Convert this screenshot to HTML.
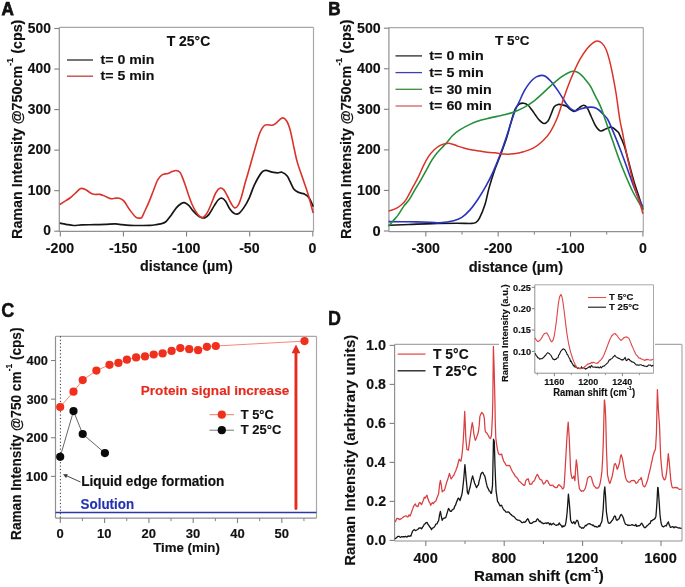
<!DOCTYPE html><html><head><meta charset="utf-8"><style>html,body{margin:0;padding:0;background:#fff;width:685px;height:587px;overflow:hidden}svg{display:block;filter:blur(0.4px)}text{font-family:"Liberation Sans",sans-serif;font-weight:bold}</style></head><body>
<svg width="685" height="587" viewBox="0 0 685 587">
<rect width="685" height="587" fill="#fff"/>
<line x1="59.30" y1="27.40" x2="313.50" y2="27.40" stroke="#a8a8a8" stroke-width="1.20" />
<line x1="313.50" y1="27.40" x2="313.50" y2="231.40" stroke="#a8a8a8" stroke-width="1.20" />
<line x1="59.30" y1="27.40" x2="59.30" y2="231.40" stroke="#909090" stroke-width="1.20" />
<line x1="59.30" y1="231.40" x2="313.50" y2="231.40" stroke="#909090" stroke-width="1.20" />
<line x1="54.30" y1="231.20" x2="59.30" y2="231.20" stroke="#808080" stroke-width="1.10" />
<text x="43.19" y="235.30" font-size="14.07" textLength="7.67" lengthAdjust="spacingAndGlyphs" fill="#111" stroke="#111" stroke-width="0.15" >0</text>
<line x1="54.30" y1="190.66" x2="59.30" y2="190.66" stroke="#808080" stroke-width="1.10" />
<text x="27.84" y="194.76" font-size="14.07" textLength="23.02" lengthAdjust="spacingAndGlyphs" fill="#111" stroke="#111" stroke-width="0.15" >100</text>
<line x1="54.30" y1="150.12" x2="59.30" y2="150.12" stroke="#808080" stroke-width="1.10" />
<text x="27.84" y="154.22" font-size="14.07" textLength="23.02" lengthAdjust="spacingAndGlyphs" fill="#111" stroke="#111" stroke-width="0.15" >200</text>
<line x1="54.30" y1="109.58" x2="59.30" y2="109.58" stroke="#808080" stroke-width="1.10" />
<text x="27.84" y="113.68" font-size="14.07" textLength="23.02" lengthAdjust="spacingAndGlyphs" fill="#111" stroke="#111" stroke-width="0.15" >300</text>
<line x1="54.30" y1="69.04" x2="59.30" y2="69.04" stroke="#808080" stroke-width="1.10" />
<text x="27.84" y="73.14" font-size="14.07" textLength="23.02" lengthAdjust="spacingAndGlyphs" fill="#111" stroke="#111" stroke-width="0.15" >400</text>
<line x1="54.30" y1="28.50" x2="59.30" y2="28.50" stroke="#808080" stroke-width="1.10" />
<text x="27.84" y="32.60" font-size="14.07" textLength="23.02" lengthAdjust="spacingAndGlyphs" fill="#111" stroke="#111" stroke-width="0.15" >500</text>
<line x1="60.30" y1="231.40" x2="60.30" y2="236.40" stroke="#808080" stroke-width="1.10" />
<text x="45.80" y="252.70" font-size="14.28" textLength="28.42" lengthAdjust="spacingAndGlyphs" fill="#111" stroke="#111" stroke-width="0.15" >-200</text>
<line x1="123.43" y1="231.40" x2="123.43" y2="236.40" stroke="#808080" stroke-width="1.10" />
<text x="108.93" y="252.70" font-size="14.28" textLength="28.42" lengthAdjust="spacingAndGlyphs" fill="#111" stroke="#111" stroke-width="0.15" >-150</text>
<line x1="186.55" y1="231.40" x2="186.55" y2="236.40" stroke="#808080" stroke-width="1.10" />
<text x="172.05" y="252.70" font-size="14.28" textLength="28.42" lengthAdjust="spacingAndGlyphs" fill="#111" stroke="#111" stroke-width="0.15" >-100</text>
<line x1="249.68" y1="231.40" x2="249.68" y2="236.40" stroke="#808080" stroke-width="1.10" />
<text x="239.13" y="252.70" font-size="14.28" textLength="20.52" lengthAdjust="spacingAndGlyphs" fill="#111" stroke="#111" stroke-width="0.15" >-50</text>
<line x1="312.80" y1="231.40" x2="312.80" y2="236.40" stroke="#808080" stroke-width="1.10" />
<text x="308.56" y="252.70" font-size="14.28" textLength="7.90" lengthAdjust="spacingAndGlyphs" fill="#111" stroke="#111" stroke-width="0.15" >0</text>
<text x="140.11" y="271.00" font-size="14.18" textLength="92.60" lengthAdjust="spacingAndGlyphs" fill="#111" stroke="#111" stroke-width="0.15" >distance (µm)</text>
<g transform="translate(21.80,238.00) rotate(-90) scale(0.9349,1)"><text fill="#111" stroke="#111" stroke-width="0.15"><tspan x="-1.03" y="0.00" font-size="15.33">Raman Intensity @750cm</tspan><tspan x="184.33" y="-9.00" font-size="9.45">-1</tspan><tspan x="192.73" y="0.00" font-size="15.33"> (cps)</tspan></text></g>
<text x="1.57" y="15.10" font-size="18.60" textLength="12.38" lengthAdjust="spacingAndGlyphs" fill="#111" stroke="#111" stroke-width="0.75" >A</text>
<text x="166.74" y="45.60" font-size="13.86" textLength="43.54" lengthAdjust="spacingAndGlyphs" fill="#111" stroke="#111" stroke-width="0.15" >T 25°C</text>
<line x1="67.00" y1="60.00" x2="93.00" y2="60.00" stroke="#2a2a2a" stroke-width="1.30" />
<line x1="67.00" y1="76.20" x2="93.00" y2="76.20" stroke="#c83a3a" stroke-width="1.30" />
<text x="100.53" y="63.70" font-size="13.44" textLength="53.85" lengthAdjust="spacingAndGlyphs" fill="#111" stroke="#111" stroke-width="0.15" >t= 0 min</text>
<text x="100.53" y="80.00" font-size="13.44" textLength="53.85" lengthAdjust="spacingAndGlyphs" fill="#111" stroke="#111" stroke-width="0.15" >t= 5 min</text>
<path d="M59.80,223.10C60.83,223.30 63.70,223.90 66.00,224.30C68.30,224.70 70.95,225.40 73.60,225.50C76.25,225.60 78.33,225.03 81.90,224.90C85.47,224.77 91.15,224.78 95.00,224.70C98.85,224.62 101.58,224.53 105.00,224.40C108.42,224.27 112.67,223.85 115.50,223.90C118.33,223.95 119.58,224.47 122.00,224.70C124.42,224.93 127.00,225.17 130.00,225.30C133.00,225.43 136.67,225.48 140.00,225.50C143.33,225.52 147.23,225.55 150.00,225.40C152.77,225.25 154.85,224.85 156.60,224.60C158.35,224.35 159.02,224.33 160.50,223.90C161.98,223.47 163.75,223.42 165.50,222.00C167.25,220.58 169.17,217.80 171.00,215.40C172.83,213.00 174.83,209.55 176.50,207.60C178.17,205.65 179.70,204.53 181.00,203.70C182.30,202.87 183.02,202.32 184.30,202.60C185.58,202.88 187.23,204.02 188.70,205.40C190.17,206.78 191.62,209.23 193.10,210.90C194.58,212.57 196.37,214.35 197.60,215.40C198.83,216.45 199.33,216.78 200.50,217.20C201.67,217.62 203.18,218.37 204.60,217.90C206.02,217.43 207.38,216.45 209.00,214.40C210.62,212.35 212.70,208.08 214.30,205.60C215.90,203.12 217.30,200.73 218.60,199.50C219.90,198.27 220.93,197.90 222.10,198.20C223.27,198.50 224.28,199.47 225.60,201.30C226.92,203.13 228.53,207.17 230.00,209.20C231.47,211.23 232.93,212.78 234.40,213.50C235.87,214.22 237.20,214.52 238.80,213.50C240.40,212.48 242.25,210.02 244.00,207.40C245.75,204.78 247.58,201.52 249.30,197.80C251.02,194.08 252.27,189.30 254.30,185.10C256.33,180.90 259.57,175.05 261.50,172.60C263.43,170.15 264.12,170.47 265.90,170.40C267.68,170.33 270.25,171.78 272.20,172.20C274.15,172.62 275.97,172.90 277.60,172.90C279.23,172.90 280.37,171.65 282.00,172.20C283.63,172.75 285.47,173.45 287.40,176.20C289.33,178.95 291.67,185.97 293.60,188.70C295.53,191.43 297.20,191.72 299.00,192.60C300.80,193.48 302.77,193.17 304.40,194.00C306.03,194.83 307.32,195.50 308.80,197.60C310.28,199.70 312.55,205.10 313.30,206.60" fill="none" stroke="#161616" stroke-width="1.7" stroke-linejoin="round"/>
<path d="M59.80,204.50C60.50,204.05 62.30,202.88 64.00,201.80C65.70,200.72 68.17,199.38 70.00,198.00C71.83,196.62 73.22,195.07 75.00,193.50C76.78,191.93 78.95,189.25 80.70,188.60C82.45,187.95 83.50,188.68 85.50,189.60C87.50,190.52 90.30,193.30 92.70,194.10C95.10,194.90 97.85,194.05 99.90,194.40C101.95,194.75 103.20,195.50 105.00,196.20C106.80,196.90 109.03,198.25 110.70,198.60C112.37,198.95 113.62,198.37 115.00,198.30C116.38,198.23 117.53,197.77 119.00,198.20C120.47,198.63 122.00,198.95 123.80,200.90C125.60,202.85 127.80,207.20 129.80,209.90C131.80,212.60 134.10,215.73 135.80,217.10C137.50,218.47 138.97,218.08 140.00,218.10C141.03,218.12 141.27,218.22 142.00,217.20C142.73,216.18 143.25,214.52 144.40,212.00C145.55,209.48 147.42,205.60 148.90,202.10C150.38,198.60 151.83,194.70 153.30,191.00C154.77,187.30 156.23,182.58 157.70,179.90C159.17,177.22 160.43,175.97 162.10,174.90C163.77,173.83 166.03,174.05 167.70,173.50C169.37,172.95 170.72,172.10 172.10,171.60C173.48,171.10 174.70,170.40 176.00,170.50C177.30,170.60 178.88,171.18 179.90,172.20C180.92,173.22 181.18,174.38 182.10,176.60C183.02,178.82 184.30,182.37 185.40,185.50C186.50,188.63 187.60,192.27 188.70,195.40C189.80,198.53 190.88,201.72 192.00,204.30C193.12,206.88 194.17,208.92 195.40,210.90C196.63,212.88 198.15,215.10 199.40,216.20C200.65,217.30 201.58,218.08 202.90,217.50C204.22,216.92 205.85,215.12 207.30,212.70C208.75,210.28 210.15,206.37 211.60,203.00C213.05,199.63 214.53,194.98 216.00,192.50C217.47,190.02 219.08,188.53 220.40,188.10C221.72,187.67 222.73,188.58 223.90,189.90C225.07,191.22 226.23,193.82 227.40,196.00C228.57,198.18 229.73,201.03 230.90,203.00C232.07,204.97 233.23,207.37 234.40,207.80C235.57,208.23 236.73,207.42 237.90,205.60C239.07,203.78 240.23,200.53 241.40,196.90C242.57,193.27 243.88,187.45 244.90,183.80C245.92,180.15 246.50,178.47 247.50,175.00C248.50,171.53 249.77,166.98 250.90,163.00C252.03,159.02 252.83,156.07 254.30,151.10C255.77,146.13 257.92,137.52 259.70,133.20C261.48,128.88 262.92,126.53 265.00,125.20C267.08,123.87 270.40,125.50 272.20,125.20C274.00,124.90 274.17,124.60 275.80,123.40C277.43,122.20 280.22,118.45 282.00,118.00C283.78,117.55 285.15,118.75 286.50,120.70C287.85,122.65 288.92,125.52 290.10,129.70C291.28,133.88 292.42,140.43 293.60,145.80C294.78,151.17 295.70,156.53 297.20,161.90C298.70,167.27 300.80,172.65 302.60,178.00C304.40,183.35 306.37,188.65 308.00,194.00C309.63,199.35 311.52,206.93 312.40,210.10C313.28,213.27 313.15,212.52 313.30,213.00" fill="none" stroke="#da3229" stroke-width="1.6" stroke-linejoin="round"/>
<line x1="388.90" y1="27.60" x2="643.30" y2="27.60" stroke="#a8a8a8" stroke-width="1.20" />
<line x1="643.30" y1="27.60" x2="643.30" y2="231.60" stroke="#a8a8a8" stroke-width="1.20" />
<line x1="388.90" y1="27.60" x2="388.90" y2="231.60" stroke="#909090" stroke-width="1.20" />
<line x1="388.90" y1="231.60" x2="643.30" y2="231.60" stroke="#909090" stroke-width="1.20" />
<line x1="383.90" y1="231.00" x2="388.90" y2="231.00" stroke="#808080" stroke-width="1.10" />
<text x="372.56" y="235.60" font-size="14.07" textLength="8.14" lengthAdjust="spacingAndGlyphs" fill="#111" stroke="#111" stroke-width="0.15" >0</text>
<line x1="383.90" y1="190.44" x2="388.90" y2="190.44" stroke="#808080" stroke-width="1.10" />
<text x="357.00" y="195.04" font-size="14.07" textLength="23.68" lengthAdjust="spacingAndGlyphs" fill="#111" stroke="#111" stroke-width="0.15" >100</text>
<line x1="383.90" y1="149.88" x2="388.90" y2="149.88" stroke="#808080" stroke-width="1.10" />
<text x="357.01" y="154.48" font-size="14.07" textLength="23.67" lengthAdjust="spacingAndGlyphs" fill="#111" stroke="#111" stroke-width="0.15" >200</text>
<line x1="383.90" y1="109.32" x2="388.90" y2="109.32" stroke="#808080" stroke-width="1.10" />
<text x="357.01" y="113.92" font-size="14.07" textLength="23.67" lengthAdjust="spacingAndGlyphs" fill="#111" stroke="#111" stroke-width="0.15" >300</text>
<line x1="383.90" y1="68.76" x2="388.90" y2="68.76" stroke="#808080" stroke-width="1.10" />
<text x="357.01" y="73.36" font-size="14.07" textLength="23.67" lengthAdjust="spacingAndGlyphs" fill="#111" stroke="#111" stroke-width="0.15" >400</text>
<line x1="383.90" y1="28.20" x2="388.90" y2="28.20" stroke="#808080" stroke-width="1.10" />
<text x="357.01" y="32.80" font-size="14.07" textLength="23.67" lengthAdjust="spacingAndGlyphs" fill="#111" stroke="#111" stroke-width="0.15" >500</text>
<line x1="425.82" y1="231.60" x2="425.82" y2="236.60" stroke="#808080" stroke-width="1.10" />
<text x="411.62" y="252.60" font-size="14.28" textLength="28.42" lengthAdjust="spacingAndGlyphs" fill="#111" stroke="#111" stroke-width="0.15" >-300</text>
<line x1="498.18" y1="231.60" x2="498.18" y2="236.60" stroke="#808080" stroke-width="1.10" />
<text x="483.98" y="252.60" font-size="14.28" textLength="28.42" lengthAdjust="spacingAndGlyphs" fill="#111" stroke="#111" stroke-width="0.15" >-200</text>
<line x1="570.54" y1="231.60" x2="570.54" y2="236.60" stroke="#808080" stroke-width="1.10" />
<text x="556.34" y="252.60" font-size="14.28" textLength="28.42" lengthAdjust="spacingAndGlyphs" fill="#111" stroke="#111" stroke-width="0.15" >-100</text>
<line x1="642.90" y1="231.60" x2="642.90" y2="236.60" stroke="#808080" stroke-width="1.10" />
<text x="638.96" y="252.60" font-size="14.28" textLength="7.90" lengthAdjust="spacingAndGlyphs" fill="#111" stroke="#111" stroke-width="0.15" >0</text>
<line x1="462.00" y1="231.60" x2="462.00" y2="234.60" stroke="#808080" stroke-width="1.00" />
<line x1="534.36" y1="231.60" x2="534.36" y2="234.60" stroke="#808080" stroke-width="1.00" />
<line x1="606.72" y1="231.60" x2="606.72" y2="234.60" stroke="#808080" stroke-width="1.00" />
<text x="468.70" y="272.10" font-size="14.18" textLength="94.32" lengthAdjust="spacingAndGlyphs" fill="#111" stroke="#111" stroke-width="0.15" >distance (µm)</text>
<g transform="translate(351.30,238.00) rotate(-90) scale(0.9354,1)"><text fill="#111" stroke="#111" stroke-width="0.15"><tspan x="-1.03" y="0.00" font-size="15.33">Raman Intensity @750cm</tspan><tspan x="184.33" y="-9.00" font-size="9.45">-1</tspan><tspan x="192.73" y="0.00" font-size="15.33"> (cps)</tspan></text></g>
<text x="328.36" y="15.20" font-size="18.60" textLength="12.32" lengthAdjust="spacingAndGlyphs" fill="#111" stroke="#111" stroke-width="0.75" >B</text>
<text x="495.05" y="45.20" font-size="13.65" textLength="34.52" lengthAdjust="spacingAndGlyphs" fill="#111" stroke="#111" stroke-width="0.15" >T 5°C</text>
<line x1="395.50" y1="55.90" x2="422.00" y2="55.90" stroke="#2a2a2a" stroke-width="1.30" />
<text x="429.33" y="60.20" font-size="13.44" textLength="54.43" lengthAdjust="spacingAndGlyphs" fill="#111" stroke="#111" stroke-width="0.15" >t= 0 min</text>
<line x1="395.50" y1="72.60" x2="422.00" y2="72.60" stroke="#3a40b8" stroke-width="1.30" />
<text x="429.33" y="76.90" font-size="13.44" textLength="54.43" lengthAdjust="spacingAndGlyphs" fill="#111" stroke="#111" stroke-width="0.15" >t= 5 min</text>
<line x1="395.50" y1="89.30" x2="422.00" y2="89.30" stroke="#3a8e3e" stroke-width="1.30" />
<text x="429.33" y="93.60" font-size="13.44" textLength="62.38" lengthAdjust="spacingAndGlyphs" fill="#111" stroke="#111" stroke-width="0.15" >t= 30 min</text>
<line x1="395.50" y1="106.00" x2="422.00" y2="106.00" stroke="#d06060" stroke-width="1.30" />
<text x="429.33" y="110.30" font-size="13.44" textLength="62.38" lengthAdjust="spacingAndGlyphs" fill="#111" stroke="#111" stroke-width="0.15" >t= 60 min</text>
<path d="M388.60,225.20C391.98,225.08 401.55,224.77 408.90,224.50C416.25,224.23 424.75,223.80 432.70,223.60C440.65,223.40 450.05,223.33 456.60,223.30C463.15,223.27 468.77,223.57 472.00,223.40C475.23,223.23 474.75,223.18 476.00,222.30C477.25,221.42 478.00,221.07 479.50,218.10C481.00,215.13 483.42,209.50 485.00,204.50C486.58,199.50 487.42,193.78 489.00,188.10C490.58,182.42 492.63,175.78 494.50,170.40C496.37,165.02 498.18,161.20 500.20,155.80C502.22,150.40 504.73,143.82 506.60,138.00C508.47,132.18 509.97,125.73 511.40,120.90C512.83,116.07 513.88,111.78 515.20,109.00C516.52,106.22 517.92,105.17 519.30,104.20C520.68,103.23 522.08,103.07 523.50,103.20C524.92,103.33 526.38,103.85 527.80,105.00C529.22,106.15 530.73,108.43 532.00,110.10C533.27,111.77 534.23,113.38 535.40,115.00C536.57,116.62 537.58,118.38 539.00,119.80C540.42,121.22 542.40,123.30 543.90,123.50C545.40,123.70 546.85,122.42 548.00,121.00C549.15,119.58 549.77,117.38 550.80,115.00C551.83,112.62 552.93,108.47 554.20,106.70C555.47,104.93 556.98,104.68 558.40,104.40C559.82,104.12 561.33,104.70 562.70,105.00C564.07,105.30 565.38,105.52 566.60,106.20C567.82,106.88 568.72,108.23 570.00,109.10C571.28,109.97 572.73,111.65 574.30,111.40C575.87,111.15 577.82,108.63 579.40,107.60C580.98,106.57 582.48,105.13 583.80,105.20C585.12,105.27 586.07,106.12 587.30,108.00C588.53,109.88 589.80,113.50 591.20,116.50C592.60,119.50 594.13,123.58 595.70,126.00C597.27,128.42 598.85,130.55 600.60,131.00C602.35,131.45 604.33,129.33 606.20,128.70C608.07,128.07 609.93,126.73 611.80,127.20C613.67,127.67 616.18,130.43 617.40,131.50C618.62,132.57 617.97,131.25 619.10,133.60C620.23,135.95 622.50,140.48 624.20,145.60C625.90,150.72 627.60,158.07 629.30,164.30C631.00,170.53 632.70,177.32 634.40,183.00C636.10,188.68 638.08,194.00 639.50,198.40C640.92,202.80 642.33,207.57 642.90,209.40" fill="none" stroke="#161616" stroke-width="1.6" stroke-linejoin="round"/>
<path d="M388.60,221.60C392.17,221.63 403.10,221.68 410.00,221.80C416.90,221.92 425.00,222.13 430.00,222.30C435.00,222.47 436.07,223.05 440.00,222.80C443.93,222.55 449.97,221.70 453.60,220.80C457.23,219.90 459.07,219.22 461.80,217.40C464.53,215.58 467.28,212.97 470.00,209.90C472.72,206.83 475.38,203.08 478.10,199.00C480.82,194.92 483.80,189.93 486.30,185.40C488.80,180.87 490.78,176.95 493.10,171.80C495.42,166.65 497.98,160.30 500.20,154.50C502.42,148.70 504.65,142.15 506.40,137.00C508.15,131.85 509.27,127.93 510.70,123.60C512.13,119.27 513.57,114.67 515.00,111.00C516.43,107.33 517.88,104.72 519.30,101.60C520.72,98.48 522.08,95.00 523.50,92.30C524.92,89.60 526.38,87.40 527.80,85.40C529.22,83.40 530.58,81.72 532.00,80.30C533.42,78.88 534.73,77.72 536.30,76.90C537.87,76.08 539.83,75.47 541.40,75.40C542.97,75.33 544.28,75.68 545.70,76.50C547.12,77.32 548.48,78.82 549.90,80.30C551.32,81.78 552.78,83.55 554.20,85.40C555.62,87.25 556.98,89.27 558.40,91.40C559.82,93.53 561.43,96.18 562.70,98.20C563.97,100.22 564.70,101.78 566.00,103.50C567.30,105.22 568.98,107.27 570.50,108.50C572.02,109.73 573.48,110.80 575.10,110.90C576.72,111.00 578.22,109.68 580.20,109.10C582.18,108.52 584.73,107.68 587.00,107.40C589.27,107.12 591.82,106.97 593.80,107.40C595.78,107.83 597.20,108.72 598.90,110.00C600.60,111.28 602.48,113.43 604.00,115.10C605.52,116.77 606.33,116.92 608.00,120.00C609.67,123.08 611.87,128.48 614.00,133.60C616.13,138.72 618.53,144.73 620.80,150.70C623.07,156.67 625.33,163.17 627.60,169.40C629.87,175.63 632.42,182.98 634.40,188.10C636.38,193.22 638.08,196.97 639.50,200.10C640.92,203.23 642.33,205.77 642.90,206.90" fill="none" stroke="#2a34c0" stroke-width="1.6" stroke-linejoin="round"/>
<path d="M388.60,226.20C389.33,225.33 391.37,222.93 393.00,221.00C394.63,219.07 396.57,217.12 398.40,214.60C400.23,212.08 402.20,208.40 404.00,205.90C405.80,203.40 407.32,202.40 409.20,199.60C411.08,196.80 413.25,192.55 415.30,189.10C417.35,185.65 419.62,182.13 421.50,178.90C423.38,175.67 424.90,172.78 426.60,169.70C428.30,166.62 430.00,163.13 431.70,160.40C433.40,157.67 435.10,155.42 436.80,153.30C438.50,151.18 440.20,149.53 441.90,147.70C443.60,145.87 445.25,144.30 447.00,142.30C448.75,140.30 450.33,137.72 452.40,135.70C454.47,133.68 456.32,132.17 459.40,130.20C462.48,128.23 467.40,125.55 470.90,123.90C474.40,122.25 477.22,121.30 480.40,120.30C483.58,119.30 485.98,118.83 490.00,117.90C494.02,116.97 500.48,115.70 504.50,114.70C508.52,113.70 510.92,113.08 514.10,111.90C517.28,110.72 520.42,109.32 523.60,107.60C526.78,105.88 530.02,103.98 533.20,101.60C536.38,99.22 539.52,96.17 542.70,93.30C545.88,90.43 549.12,87.18 552.30,84.40C555.48,81.62 558.85,78.68 561.80,76.60C564.75,74.52 567.92,72.78 570.00,71.90C572.08,71.02 572.73,71.05 574.30,71.30C575.87,71.55 577.57,72.05 579.40,73.40C581.23,74.75 583.47,77.27 585.30,79.40C587.13,81.53 588.70,83.37 590.40,86.20C592.10,89.03 593.80,93.00 595.50,96.40C597.20,99.80 598.95,102.67 600.60,106.60C602.25,110.53 604.00,116.02 605.40,120.00C606.80,123.98 607.72,126.82 609.00,130.50C610.28,134.18 611.42,137.32 613.10,142.10C614.78,146.88 616.97,153.52 619.10,159.20C621.23,164.88 623.63,170.82 625.90,176.20C628.17,181.58 630.43,186.95 632.70,191.50C634.97,196.05 637.80,200.62 639.50,203.50C641.20,206.38 642.33,207.92 642.90,208.80" fill="none" stroke="#24903a" stroke-width="1.6" stroke-linejoin="round"/>
<path d="M388.60,211.10C388.83,211.02 388.83,211.00 390.00,210.60C391.17,210.20 393.73,209.63 395.60,208.70C397.47,207.77 399.45,206.52 401.20,205.00C402.95,203.48 404.25,202.42 406.10,199.60C407.95,196.78 410.25,191.90 412.30,188.10C414.35,184.30 416.53,180.55 418.40,176.80C420.27,173.05 421.80,169.00 423.50,165.60C425.20,162.20 426.90,158.97 428.60,156.40C430.30,153.83 431.98,151.92 433.70,150.20C435.42,148.48 437.18,147.12 438.90,146.10C440.62,145.08 442.15,144.55 444.00,144.10C445.85,143.65 447.87,143.12 450.00,143.40C452.13,143.68 454.50,145.03 456.80,145.80C459.10,146.57 461.18,147.30 463.80,148.00C466.42,148.70 469.80,149.50 472.50,150.00C475.20,150.50 477.88,150.67 480.00,151.00C482.12,151.33 482.70,151.70 485.20,152.00C487.70,152.30 491.78,152.45 495.00,152.80C498.22,153.15 501.32,153.95 504.50,154.10C507.68,154.25 510.92,154.10 514.10,153.70C517.28,153.30 520.42,152.62 523.60,151.70C526.78,150.78 530.02,149.98 533.20,148.20C536.38,146.42 539.92,143.60 542.70,141.00C545.48,138.40 547.50,136.38 549.90,132.60C552.30,128.82 554.72,124.27 557.10,118.30C559.48,112.33 562.05,103.00 564.20,96.80C566.35,90.60 568.18,85.72 570.00,81.10C571.82,76.48 573.40,72.80 575.10,69.10C576.80,65.40 578.22,62.30 580.20,58.90C582.18,55.50 584.87,51.38 587.00,48.70C589.13,46.02 591.30,44.07 593.00,42.80C594.70,41.53 595.78,41.10 597.20,41.10C598.62,41.10 600.08,41.53 601.50,42.80C602.92,44.07 604.43,46.02 605.70,48.70C606.97,51.38 607.95,54.63 609.10,58.90C610.25,63.17 611.45,68.62 612.60,74.30C613.75,79.98 614.78,85.38 616.00,93.00C617.22,100.62 618.82,113.42 619.90,120.00C620.98,126.58 621.65,128.23 622.50,132.50C623.35,136.77 623.87,140.02 625.00,145.60C626.13,151.18 627.73,159.20 629.30,166.00C630.87,172.80 632.70,180.43 634.40,186.40C636.10,192.37 638.08,197.25 639.50,201.80C640.92,206.35 642.33,211.72 642.90,213.70" fill="none" stroke="#da3229" stroke-width="1.5" stroke-linejoin="round"/>
<line x1="55.50" y1="336.30" x2="316.50" y2="336.30" stroke="#a8a8a8" stroke-width="1.20" />
<line x1="316.50" y1="336.30" x2="316.50" y2="518.10" stroke="#a8a8a8" stroke-width="1.20" />
<line x1="55.50" y1="336.30" x2="55.50" y2="518.10" stroke="#909090" stroke-width="1.20" />
<line x1="55.50" y1="518.10" x2="316.50" y2="518.10" stroke="#909090" stroke-width="1.20" />
<line x1="51.00" y1="476.38" x2="55.50" y2="476.38" stroke="#808080" stroke-width="1.10" />
<text x="25.87" y="480.78" font-size="13.02" textLength="22.08" lengthAdjust="spacingAndGlyphs" fill="#111" stroke="#111" stroke-width="0.15" >100</text>
<line x1="51.00" y1="437.76" x2="55.50" y2="437.76" stroke="#808080" stroke-width="1.10" />
<text x="26.25" y="442.16" font-size="13.02" textLength="21.68" lengthAdjust="spacingAndGlyphs" fill="#111" stroke="#111" stroke-width="0.15" >200</text>
<line x1="51.00" y1="399.14" x2="55.50" y2="399.14" stroke="#808080" stroke-width="1.10" />
<text x="26.40" y="403.54" font-size="13.02" textLength="21.53" lengthAdjust="spacingAndGlyphs" fill="#111" stroke="#111" stroke-width="0.15" >300</text>
<line x1="51.00" y1="360.52" x2="55.50" y2="360.52" stroke="#808080" stroke-width="1.10" />
<text x="26.51" y="364.92" font-size="13.02" textLength="21.42" lengthAdjust="spacingAndGlyphs" fill="#111" stroke="#111" stroke-width="0.15" >400</text>
<line x1="60.30" y1="518.10" x2="60.30" y2="523.10" stroke="#808080" stroke-width="1.10" />
<text x="56.49" y="537.70" font-size="12.81" textLength="7.23" lengthAdjust="spacingAndGlyphs" fill="#111" stroke="#111" stroke-width="0.15" >0</text>
<line x1="104.60" y1="518.10" x2="104.60" y2="523.10" stroke="#808080" stroke-width="1.10" />
<text x="97.03" y="537.70" font-size="12.81" textLength="14.46" lengthAdjust="spacingAndGlyphs" fill="#111" stroke="#111" stroke-width="0.15" >10</text>
<line x1="148.90" y1="518.10" x2="148.90" y2="523.10" stroke="#808080" stroke-width="1.10" />
<text x="141.51" y="537.70" font-size="12.81" textLength="14.46" lengthAdjust="spacingAndGlyphs" fill="#111" stroke="#111" stroke-width="0.15" >20</text>
<line x1="193.20" y1="518.10" x2="193.20" y2="523.10" stroke="#808080" stroke-width="1.10" />
<text x="185.89" y="537.70" font-size="12.81" textLength="14.46" lengthAdjust="spacingAndGlyphs" fill="#111" stroke="#111" stroke-width="0.15" >30</text>
<line x1="237.50" y1="518.10" x2="237.50" y2="523.10" stroke="#808080" stroke-width="1.10" />
<text x="230.24" y="537.70" font-size="12.81" textLength="14.46" lengthAdjust="spacingAndGlyphs" fill="#111" stroke="#111" stroke-width="0.15" >40</text>
<line x1="281.80" y1="518.10" x2="281.80" y2="523.10" stroke="#808080" stroke-width="1.10" />
<text x="274.44" y="537.70" font-size="12.81" textLength="14.46" lengthAdjust="spacingAndGlyphs" fill="#111" stroke="#111" stroke-width="0.15" >50</text>
<line x1="82.45" y1="518.10" x2="82.45" y2="521.10" stroke="#808080" stroke-width="1.00" />
<line x1="126.75" y1="518.10" x2="126.75" y2="521.10" stroke="#808080" stroke-width="1.00" />
<line x1="171.05" y1="518.10" x2="171.05" y2="521.10" stroke="#808080" stroke-width="1.00" />
<line x1="215.35" y1="518.10" x2="215.35" y2="521.10" stroke="#808080" stroke-width="1.00" />
<line x1="259.65" y1="518.10" x2="259.65" y2="521.10" stroke="#808080" stroke-width="1.00" />
<line x1="303.95" y1="518.10" x2="303.95" y2="521.10" stroke="#808080" stroke-width="1.00" />
<text x="153.25" y="552.10" font-size="13.23" textLength="66.60" lengthAdjust="spacingAndGlyphs" fill="#111" stroke="#111" stroke-width="0.15" >Time (min)</text>
<g transform="translate(20.50,539.00) rotate(-90) scale(0.9337,1)"><text fill="#111" stroke="#111" stroke-width="0.15"><tspan x="-0.98" y="0.00" font-size="14.60">Raman Intensity @750 cm</tspan><tspan x="179.54" y="-8.60" font-size="9.03">-1</tspan><tspan x="187.57" y="0.00" font-size="14.60"> (cps)</tspan></text></g>
<text x="1.25" y="317.30" font-size="21.00" textLength="13.14" lengthAdjust="spacingAndGlyphs" fill="#111" stroke="#111" stroke-width="0.40" >C</text>
<line x1="60.40" y1="336.30" x2="60.40" y2="518.10" stroke="#333" stroke-width="1.00" stroke-dasharray="1.2,2.2"/>
<line x1="55.50" y1="512.50" x2="316.50" y2="512.50" stroke="#2b3aa0" stroke-width="1.60" />
<text x="80.61" y="508.60" font-size="14.07" textLength="53.52" lengthAdjust="spacingAndGlyphs" fill="#2532b0" stroke="#2532b0" stroke-width="0.15" >Solution</text>
<text x="81.19" y="486.00" font-size="13.86" textLength="143.16" lengthAdjust="spacingAndGlyphs" fill="#111" stroke="#111" stroke-width="0.15" >Liquid edge formation</text>
<line x1="80.50" y1="482.00" x2="65.50" y2="475.30" stroke="#333" stroke-width="0.90" />
<path d="M63.0,474.3 L67.8,474.3 L66.1,477.9 Z" fill="#333"/>
<line x1="295.95" y1="352" x2="295.95" y2="508.5" stroke="#e42b1e" stroke-width="2.9" stroke-linecap="round"/>
<path d="M291.6,353.2 L296,344.5 L300.4,353.2 Z" fill="#e42b1e"/>
<text x="140.79" y="394.60" font-size="13.23" textLength="148.47" lengthAdjust="spacingAndGlyphs" fill="#e42b1e" stroke="#e42b1e" stroke-width="0.15" >Protein signal increase</text>
<path d="M60.20,407.00 L73.50,391.70 L82.70,380.10 L96.40,370.60 L109.50,364.80 L118.40,362.90 L126.90,359.70 L136.10,357.40 L145.00,356.40 L153.70,354.50 L162.60,353.40 L171.60,350.90 L180.30,348.10 L189.20,349.20 L198.10,350.20 L206.90,346.80 L215.80,346.00 L304.50,341.10" fill="none" stroke="#f07a6a" stroke-width="0.9"/>
<path d="M60.20,456.80 L73.50,411.10 L82.70,434.00 L104.90,453.10" fill="none" stroke="#555" stroke-width="0.9"/>
<circle cx="60.2" cy="407.0" r="4.1" fill="#f0301c"/>
<circle cx="73.5" cy="391.7" r="4.1" fill="#f0301c"/>
<circle cx="82.7" cy="380.1" r="4.1" fill="#f0301c"/>
<circle cx="96.4" cy="370.6" r="4.1" fill="#f0301c"/>
<circle cx="109.5" cy="364.8" r="4.1" fill="#f0301c"/>
<circle cx="118.4" cy="362.9" r="4.1" fill="#f0301c"/>
<circle cx="126.9" cy="359.7" r="4.1" fill="#f0301c"/>
<circle cx="136.1" cy="357.4" r="4.1" fill="#f0301c"/>
<circle cx="145.0" cy="356.4" r="4.1" fill="#f0301c"/>
<circle cx="153.7" cy="354.5" r="4.1" fill="#f0301c"/>
<circle cx="162.6" cy="353.4" r="4.1" fill="#f0301c"/>
<circle cx="171.6" cy="350.9" r="4.1" fill="#f0301c"/>
<circle cx="180.3" cy="348.1" r="4.1" fill="#f0301c"/>
<circle cx="189.2" cy="349.2" r="4.1" fill="#f0301c"/>
<circle cx="198.1" cy="350.2" r="4.1" fill="#f0301c"/>
<circle cx="206.9" cy="346.8" r="4.1" fill="#f0301c"/>
<circle cx="215.8" cy="346.0" r="4.1" fill="#f0301c"/>
<circle cx="304.5" cy="341.1" r="4.1" fill="#f0301c"/>
<circle cx="60.2" cy="456.8" r="4.1" fill="#0a0a0a"/>
<circle cx="73.5" cy="411.1" r="4.1" fill="#0a0a0a"/>
<circle cx="82.7" cy="434.0" r="4.1" fill="#0a0a0a"/>
<circle cx="104.9" cy="453.1" r="4.1" fill="#0a0a0a"/>
<line x1="209.50" y1="414.70" x2="234.00" y2="414.70" stroke="#f07a6a" stroke-width="1.00" />
<circle cx="221.8" cy="414.7" r="4.1" fill="#f0301c"/>
<line x1="209.50" y1="430.20" x2="234.00" y2="430.20" stroke="#777" stroke-width="1.00" />
<circle cx="221.8" cy="430.2" r="4.1" fill="#0a0a0a"/>
<text x="240.76" y="419.30" font-size="13.02" textLength="33.10" lengthAdjust="spacingAndGlyphs" fill="#111" stroke="#111" stroke-width="0.15" >T 5°C</text>
<text x="240.75" y="434.20" font-size="13.02" textLength="40.50" lengthAdjust="spacingAndGlyphs" fill="#111" stroke="#111" stroke-width="0.15" >T 25°C</text>
<line x1="394.60" y1="344.40" x2="682.00" y2="344.40" stroke="#a8a8a8" stroke-width="1.20" />
<line x1="682.00" y1="344.40" x2="682.00" y2="541.00" stroke="#a8a8a8" stroke-width="1.20" />
<line x1="394.60" y1="344.40" x2="394.60" y2="541.00" stroke="#909090" stroke-width="1.20" />
<line x1="394.60" y1="541.00" x2="682.00" y2="541.00" stroke="#909090" stroke-width="1.20" />
<line x1="389.60" y1="540.40" x2="394.60" y2="540.40" stroke="#808080" stroke-width="1.10" />
<text x="366.34" y="545.00" font-size="14.28" textLength="19.74" lengthAdjust="spacingAndGlyphs" fill="#111" stroke="#111" stroke-width="0.15" >0.0</text>
<line x1="389.60" y1="501.40" x2="394.60" y2="501.40" stroke="#808080" stroke-width="1.10" />
<text x="366.34" y="506.00" font-size="14.28" textLength="19.73" lengthAdjust="spacingAndGlyphs" fill="#111" stroke="#111" stroke-width="0.15" >0.2</text>
<line x1="389.60" y1="462.40" x2="394.60" y2="462.40" stroke="#808080" stroke-width="1.10" />
<text x="366.35" y="467.00" font-size="14.28" textLength="19.22" lengthAdjust="spacingAndGlyphs" fill="#111" stroke="#111" stroke-width="0.15" >0.4</text>
<line x1="389.60" y1="423.40" x2="394.60" y2="423.40" stroke="#808080" stroke-width="1.10" />
<text x="366.34" y="428.00" font-size="14.28" textLength="19.67" lengthAdjust="spacingAndGlyphs" fill="#111" stroke="#111" stroke-width="0.15" >0.6</text>
<line x1="389.60" y1="384.40" x2="394.60" y2="384.40" stroke="#808080" stroke-width="1.10" />
<text x="366.34" y="389.00" font-size="14.28" textLength="19.59" lengthAdjust="spacingAndGlyphs" fill="#111" stroke="#111" stroke-width="0.15" >0.8</text>
<line x1="389.60" y1="345.40" x2="394.60" y2="345.40" stroke="#808080" stroke-width="1.10" />
<text x="365.99" y="350.00" font-size="14.28" textLength="20.10" lengthAdjust="spacingAndGlyphs" fill="#111" stroke="#111" stroke-width="0.15" >1.0</text>
<line x1="425.80" y1="541.00" x2="425.80" y2="546.00" stroke="#808080" stroke-width="1.10" />
<text x="413.51" y="562.50" font-size="13.86" textLength="24.36" lengthAdjust="spacingAndGlyphs" fill="#111" stroke="#111" stroke-width="0.15" >400</text>
<line x1="504.20" y1="541.00" x2="504.20" y2="546.00" stroke="#808080" stroke-width="1.10" />
<text x="491.79" y="562.50" font-size="13.86" textLength="24.36" lengthAdjust="spacingAndGlyphs" fill="#111" stroke="#111" stroke-width="0.15" >800</text>
<line x1="582.60" y1="541.00" x2="582.60" y2="546.00" stroke="#808080" stroke-width="1.10" />
<text x="565.90" y="562.50" font-size="13.86" textLength="32.48" lengthAdjust="spacingAndGlyphs" fill="#111" stroke="#111" stroke-width="0.15" >1200</text>
<line x1="661.00" y1="541.00" x2="661.00" y2="546.00" stroke="#808080" stroke-width="1.10" />
<text x="644.30" y="562.50" font-size="13.86" textLength="32.48" lengthAdjust="spacingAndGlyphs" fill="#111" stroke="#111" stroke-width="0.15" >1600</text>
<line x1="465.00" y1="541.00" x2="465.00" y2="544.00" stroke="#808080" stroke-width="1.00" />
<line x1="543.40" y1="541.00" x2="543.40" y2="544.00" stroke="#808080" stroke-width="1.00" />
<line x1="621.80" y1="541.00" x2="621.80" y2="544.00" stroke="#808080" stroke-width="1.00" />
<g transform="translate(475.10,580.80) scale(1.0104,1)"><text fill="#111" stroke="#111" stroke-width="0.15"><tspan x="-1.00" y="0.00" font-size="14.91">Raman shift (cm</tspan><tspan x="114.99" y="-8.00" font-size="8.40">-1</tspan><tspan x="122.46" y="0.00" font-size="14.91">)</tspan></text></g>
<text transform="translate(354.60,564.80) rotate(-90)" x="-1.00" y="0" font-size="15.12" textLength="231.05" lengthAdjust="spacingAndGlyphs" fill="#111" stroke="#111" stroke-width="0.15">Raman Intensity (arbitrary units)</text>
<text x="328.00" y="324.90" font-size="20.00" textLength="12.95" lengthAdjust="spacingAndGlyphs" fill="#111" stroke="#111" stroke-width="0.45" >D</text>
<path d="M394.80,538.40 L395.48,538.52 L396.58,537.79 L397.50,536.63 L398.24,536.32 L399.30,536.47 L400.36,537.36 L401.10,536.99 L401.91,536.56 L402.89,536.96 L403.70,536.67 L404.42,536.94 L405.46,536.39 L406.52,537.00 L407.30,536.97 L408.08,535.95 L409.13,536.44 L410.17,535.68 L410.90,536.09 L411.76,533.37 L412.80,530.86 L413.60,530.12 L414.42,529.67 L415.48,530.60 L416.30,530.22 L417.12,529.77 L418.18,528.95 L419.00,528.05 L419.79,528.00 L420.81,527.95 L421.60,528.82 L422.42,527.45 L423.48,525.83 L424.30,524.21 L425.14,523.86 L426.22,522.52 L427.00,522.40 L427.90,524.26 L428.80,525.36 L429.56,526.68 L430.62,527.79 L431.50,529.59 L432.23,528.25 L433.27,527.88 L434.33,526.97 L435.10,525.76 L435.87,524.14 L436.92,523.91 L437.93,521.63 L438.60,520.86 L439.56,514.89 L440.40,511.38 L441.23,515.99 L442.20,520.32 L442.90,518.92 L443.97,518.24 L445.05,517.91 L445.80,517.36 L446.66,514.62 L447.70,511.15 L448.50,508.41 L449.30,509.69 L450.34,511.42 L451.20,511.38 L451.91,510.29 L452.92,509.41 L453.94,508.72 L454.70,506.23 L455.49,505.20 L456.57,501.93 L457.61,499.64 L458.30,498.08 L459.20,498.96 L460.00,500.55 L460.69,498.22 L461.62,495.58 L462.30,492.03 L463.10,485.13 L463.80,478.49 L464.90,464.58 L465.49,471.15 L466.10,478.38 L466.76,484.96 L467.40,492.33 L468.40,494.12 L469.05,490.64 L469.99,487.53 L470.70,483.91 L471.66,479.31 L472.60,475.92 L473.60,479.59 L474.60,482.95 L475.61,485.56 L476.60,487.69 L477.49,485.56 L478.40,485.02 L479.08,481.19 L480.00,478.06 L480.70,474.64 L481.71,472.92 L482.70,472.30 L483.64,474.29 L484.60,475.55 L485.28,477.96 L486.19,482.67 L486.90,485.42 L487.60,487.69 L488.50,489.12 L489.20,490.96 L489.93,491.17 L490.86,493.10 L491.50,493.28 L492.50,485.64 L493.50,439.16 L494.30,441.56 L495.00,466.29 L495.52,479.41 L496.10,491.17 L496.82,496.06 L497.60,501.57 L498.47,502.54 L499.40,504.77 L500.07,506.05 L500.96,505.15 L501.60,505.32 L502.30,507.00 L503.00,508.51 L504.01,510.05 L505.20,511.02 L505.94,512.16 L507.05,512.22 L508.16,511.81 L508.90,512.26 L509.62,513.02 L510.43,514.08 L511.10,514.50 L511.92,515.50 L513.04,516.17 L514.00,516.67 L514.87,517.58 L516.15,519.20 L517.45,520.01 L518.40,520.17 L519.34,520.28 L520.60,521.30 L521.84,522.51 L522.70,522.68 L523.69,521.91 L524.86,522.40 L525.70,521.57 L526.78,519.80 L527.80,518.79 L528.43,519.66 L529.26,521.92 L530.00,523.23 L530.73,523.17 L531.81,523.38 L532.91,522.27 L533.70,521.74 L534.74,521.60 L536.04,521.25 L537.00,519.28 L537.79,518.84 L538.74,520.35 L539.50,521.61 L540.33,521.09 L541.44,522.94 L542.40,522.79 L543.29,523.72 L544.60,523.28 L545.91,522.82 L546.80,523.60 L547.73,522.71 L548.82,523.11 L549.70,524.73 L550.46,523.39 L551.55,524.89 L552.64,523.73 L553.40,523.28 L554.32,524.25 L555.44,525.00 L556.30,525.40 L557.16,524.88 L558.28,524.90 L559.20,522.94 L559.97,524.26 L561.08,525.25 L562.17,527.14 L562.90,525.70 L563.65,526.63 L564.50,526.04 L565.10,525.67 L565.84,522.79 L566.50,518.21 L567.13,512.23 L567.70,504.50 L568.40,494.03 L568.93,498.98 L569.50,505.25 L570.05,512.20 L570.60,519.96 L571.60,522.64 L572.69,523.31 L573.80,521.68 L574.42,522.75 L575.00,523.94 L575.89,522.00 L576.80,520.27 L577.51,520.42 L578.20,522.12 L578.89,525.23 L579.70,526.96 L580.52,526.95 L581.69,528.34 L582.60,527.71 L583.48,528.23 L584.62,526.70 L585.50,525.25 L586.38,525.74 L587.51,524.10 L588.40,523.90 L589.34,523.57 L590.56,524.14 L591.40,524.79 L592.08,524.82 L592.80,525.54 L593.44,525.14 L594.42,526.55 L595.45,526.31 L596.20,526.68 L596.96,527.11 L598.00,526.87 L599.01,525.45 L599.70,526.50 L600.83,523.52 L601.80,521.72 L602.54,515.99 L603.20,508.91 L604.10,492.29 L604.80,486.90 L605.50,495.45 L606.40,511.82 L607.05,516.08 L607.80,520.93 L608.45,523.00 L609.36,523.31 L610.10,522.92 L610.95,522.07 L612.08,520.44 L612.90,519.54 L613.82,517.19 L614.70,516.00 L615.38,516.42 L616.30,519.70 L617.00,520.35 L618.06,519.42 L619.10,518.77 L620.15,515.95 L621.20,514.33 L622.25,515.71 L623.30,517.71 L624.30,521.49 L625.40,524.09 L626.06,524.33 L627.02,524.63 L628.03,525.50 L628.80,525.16 L629.67,525.34 L630.90,525.03 L632.13,524.57 L633.00,525.22 L633.78,525.44 L634.81,525.57 L635.80,524.32 L636.50,526.42 L637.36,526.05 L638.41,525.65 L639.20,525.79 L639.96,525.43 L640.90,524.01 L641.60,523.13 L642.51,524.35 L643.40,526.22 L644.41,527.55 L645.50,527.55 L646.32,526.50 L647.44,525.46 L648.30,524.73 L649.12,523.90 L650.18,523.45 L651.00,520.62 L651.86,520.87 L652.98,519.82 L653.80,519.35 L654.91,518.62 L655.90,516.42 L656.50,509.17 L657.00,501.62 L657.70,487.32 L658.10,487.76 L658.90,498.32 L659.43,505.92 L660.00,514.75 L660.66,520.13 L661.40,524.30 L662.40,526.46 L663.50,526.84 L664.33,526.29 L665.47,525.53 L666.30,525.96 L667.40,523.36 L668.40,521.84 L669.05,524.35 L669.80,525.81 L670.43,527.42 L671.39,527.12 L672.42,526.71 L673.20,526.78 L674.06,527.76 L675.27,526.77 L676.50,527.17 L677.40,527.60 L678.33,527.85 L679.61,527.98 L680.80,528.37 L681.50,528.30" fill="none" stroke="#161616" stroke-width="1.3" stroke-linejoin="round"/>
<path d="M394.80,521.40 L395.50,521.64 L396.62,518.71 L397.50,518.40 L398.32,518.56 L399.38,519.63 L400.20,518.90 L400.99,519.02 L402.01,518.11 L402.80,517.36 L403.62,516.88 L404.68,516.27 L405.50,515.96 L406.32,515.88 L407.38,517.04 L408.20,516.73 L409.02,514.86 L410.08,516.04 L410.90,514.10 L411.74,511.57 L412.82,508.63 L413.60,506.31 L414.53,504.92 L415.40,503.97 L416.27,505.95 L417.20,506.33 L417.97,506.64 L419.03,503.21 L419.80,502.50 L420.73,503.51 L421.60,504.51 L422.50,502.21 L423.40,500.24 L424.30,497.22 L425.20,498.08 L426.12,496.47 L427.00,495.22 L427.63,498.15 L428.30,499.45 L428.95,501.65 L429.86,502.94 L430.60,505.37 L431.40,503.94 L432.47,502.70 L433.30,503.72 L434.12,502.42 L435.18,501.49 L436.00,500.82 L436.81,498.23 L437.85,495.66 L438.60,493.85 L439.53,485.16 L440.40,480.37 L441.27,484.79 L442.20,491.90 L442.98,490.95 L444.06,490.75 L444.90,488.75 L445.74,485.70 L446.82,481.73 L447.60,479.84 L448.53,476.59 L449.40,473.43 L450.27,476.23 L451.20,478.94 L451.98,477.73 L453.06,476.01 L453.90,475.23 L454.69,472.95 L455.71,471.05 L456.50,468.37 L457.34,466.53 L458.42,461.78 L459.20,459.10 L460.15,460.60 L461.00,461.11 L461.66,457.12 L462.30,452.07 L463.07,443.00 L463.80,431.14 L464.70,411.31 L465.24,423.57 L465.80,438.26 L466.90,449.54 L467.63,449.66 L468.40,450.17 L469.17,444.58 L470.00,438.39 L470.69,433.14 L471.62,426.36 L472.30,422.57 L473.08,426.88 L473.80,433.31 L474.52,437.13 L475.30,440.28 L475.98,439.16 L476.91,436.34 L477.60,434.85 L478.46,431.53 L479.20,425.40 L479.90,416.37 L480.76,414.23 L481.70,412.49 L482.64,413.30 L483.50,414.66 L484.30,418.08 L485.10,430.42 L485.81,432.27 L486.87,433.09 L487.70,434.48 L488.49,435.77 L489.50,437.89 L490.20,438.53 L490.91,437.58 L491.50,434.80 L492.40,416.89 L492.80,400.10 L493.40,346.39 L494.10,367.58 L494.90,400.45 L495.30,423.10 L495.80,437.78 L496.70,445.05 L497.55,449.87 L498.40,453.30 L499.30,454.64 L500.02,454.39 L501.06,454.59 L501.80,454.08 L502.44,457.58 L503.00,458.62 L503.65,461.39 L504.40,462.01 L505.11,463.38 L506.11,465.22 L506.90,465.77 L507.69,465.40 L508.71,465.60 L509.50,465.43 L510.24,466.82 L511.20,468.98 L512.00,470.67 L512.68,471.98 L513.66,473.44 L514.66,475.14 L515.40,476.57 L516.14,477.06 L517.15,478.00 L518.16,479.31 L518.90,481.13 L519.64,481.37 L520.64,482.44 L521.62,483.43 L522.30,484.19 L523.10,484.49 L524.06,485.44 L524.80,485.10 L525.59,481.26 L526.61,479.49 L527.40,479.38 L528.16,478.66 L529.14,482.16 L529.90,484.44 L530.69,483.99 L531.71,484.21 L532.50,482.36 L533.27,481.49 L534.26,480.68 L535.00,479.23 L535.68,477.29 L536.53,475.72 L537.20,474.33 L537.92,475.22 L538.88,477.11 L539.60,478.93 L540.72,479.63 L541.80,480.13 L542.65,482.65 L543.60,484.09 L544.27,483.41 L545.27,482.55 L546.29,480.48 L547.00,480.43 L547.78,481.01 L548.72,483.46 L549.50,484.15 L550.18,485.38 L551.17,485.57 L552.16,485.04 L552.90,485.05 L553.63,486.43 L554.63,486.91 L555.61,487.74 L556.30,487.57 L557.11,487.37 L558.09,485.39 L558.90,484.60 L559.61,485.27 L560.63,486.17 L561.64,487.05 L562.30,488.86 L563.24,488.66 L564.00,487.04 L564.55,480.04 L565.10,469.75 L565.88,456.33 L566.70,441.29 L567.47,430.20 L568.20,422.05 L569.20,437.50 L569.88,453.05 L570.60,470.35 L571.39,475.80 L572.20,478.51 L573.07,477.95 L573.90,476.07 L574.90,480.64 L575.57,469.71 L576.30,459.78 L577.15,465.71 L578.00,476.74 L578.65,483.29 L579.40,488.59 L580.24,489.89 L581.45,491.37 L582.40,490.77 L583.36,491.07 L584.60,489.58 L585.50,487.70 L586.59,483.25 L587.60,478.18 L588.60,477.30 L589.60,476.37 L590.57,476.28 L591.60,478.02 L592.37,481.26 L593.43,484.49 L594.30,486.33 L595.01,486.79 L596.01,488.04 L597.01,487.93 L597.70,488.15 L598.52,487.84 L599.50,485.52 L600.20,483.02 L601.09,477.78 L601.90,471.41 L602.62,459.09 L603.30,442.35 L603.85,420.12 L604.40,399.01 L605.06,405.20 L605.70,417.35 L606.50,450.71 L607.50,474.93 L608.49,479.46 L609.60,483.43 L610.33,482.54 L611.31,478.93 L612.10,476.69 L613.04,471.87 L614.29,464.66 L615.20,463.47 L616.25,465.43 L617.20,469.31 L618.04,467.62 L618.90,464.79 L619.58,462.73 L620.50,456.22 L621.20,454.64 L622.19,457.71 L623.20,462.90 L623.95,468.22 L624.96,474.35 L625.80,478.54 L626.48,479.80 L627.44,481.35 L628.43,482.01 L629.20,482.10 L630.07,482.24 L631.30,480.56 L632.53,480.70 L633.40,480.34 L634.14,480.55 L635.10,481.48 L636.05,483.44 L636.80,483.06 L637.71,482.20 L639.01,479.81 L640.28,479.19 L641.10,477.47 L642.02,480.76 L642.80,484.98 L643.52,485.99 L644.52,486.91 L645.30,485.95 L646.07,484.20 L647.07,481.59 L647.90,478.84 L648.61,475.05 L649.63,471.56 L650.64,467.16 L651.30,463.56 L652.22,459.97 L653.00,455.66 L653.72,453.83 L654.40,450.99 L654.97,450.62 L655.50,448.67 L656.40,434.07 L657.40,389.53 L658.30,408.11 L658.89,416.94 L659.50,424.89 L660.08,441.23 L660.70,456.90 L661.50,466.38 L662.40,475.46 L663.14,477.63 L664.16,479.72 L664.90,479.89 L665.78,477.47 L666.60,472.46 L667.45,463.63 L668.30,453.73 L669.15,461.18 L670.00,470.82 L670.79,480.22 L671.70,485.42 L672.31,487.65 L673.22,487.89 L674.23,487.58 L675.10,487.37 L675.87,487.86 L677.05,487.45 L678.43,488.69 L679.77,489.44 L680.87,489.24 L681.50,488.90" fill="none" stroke="#d93e40" stroke-width="1.25" stroke-linejoin="round"/>
<line x1="397.60" y1="354.10" x2="425.50" y2="354.10" stroke="#e8504a" stroke-width="1.30" />
<line x1="397.60" y1="370.80" x2="425.50" y2="370.80" stroke="#161616" stroke-width="1.30" />
<text x="433.04" y="358.90" font-size="14.60" textLength="35.64" lengthAdjust="spacingAndGlyphs" fill="#111" stroke="#111" stroke-width="0.15" >T 5°C</text>
<text x="433.04" y="376.00" font-size="14.60" textLength="44.15" lengthAdjust="spacingAndGlyphs" fill="#111" stroke="#111" stroke-width="0.15" >T 25°C</text>
<rect x="499" y="278" width="156" height="121.5" fill="#fff"/>
<line x1="534.80" y1="284.80" x2="653.50" y2="284.80" stroke="#a8a8a8" stroke-width="1.00" />
<line x1="653.50" y1="284.80" x2="653.50" y2="373.20" stroke="#a8a8a8" stroke-width="1.00" />
<line x1="534.80" y1="284.80" x2="534.80" y2="373.20" stroke="#909090" stroke-width="1.00" />
<line x1="534.80" y1="373.20" x2="653.50" y2="373.20" stroke="#909090" stroke-width="1.00" />
<line x1="531.80" y1="351.40" x2="534.80" y2="351.40" stroke="#808080" stroke-width="1.00" />
<text x="513.03" y="354.80" font-size="9.03" textLength="18.05" lengthAdjust="spacingAndGlyphs" fill="#111" stroke="#111" stroke-width="0.15" >0.10</text>
<line x1="531.80" y1="330.03" x2="534.80" y2="330.03" stroke="#808080" stroke-width="1.00" />
<text x="513.04" y="333.43" font-size="9.03" textLength="17.92" lengthAdjust="spacingAndGlyphs" fill="#111" stroke="#111" stroke-width="0.15" >0.15</text>
<line x1="531.80" y1="308.67" x2="534.80" y2="308.67" stroke="#808080" stroke-width="1.00" />
<text x="513.03" y="312.07" font-size="9.03" textLength="18.05" lengthAdjust="spacingAndGlyphs" fill="#111" stroke="#111" stroke-width="0.15" >0.20</text>
<line x1="531.80" y1="287.30" x2="534.80" y2="287.30" stroke="#808080" stroke-width="1.00" />
<text x="513.04" y="290.70" font-size="9.03" textLength="17.92" lengthAdjust="spacingAndGlyphs" fill="#111" stroke="#111" stroke-width="0.15" >0.25</text>
<line x1="554.40" y1="373.20" x2="554.40" y2="376.20" stroke="#808080" stroke-width="1.00" />
<text x="544.34" y="384.90" font-size="9.55" textLength="19.93" lengthAdjust="spacingAndGlyphs" fill="#111" stroke="#111" stroke-width="0.15" >1160</text>
<line x1="588.40" y1="373.20" x2="588.40" y2="376.20" stroke="#808080" stroke-width="1.00" />
<text x="578.34" y="384.90" font-size="9.55" textLength="19.93" lengthAdjust="spacingAndGlyphs" fill="#111" stroke="#111" stroke-width="0.15" >1200</text>
<line x1="622.40" y1="373.20" x2="622.40" y2="376.20" stroke="#808080" stroke-width="1.00" />
<text x="612.34" y="384.90" font-size="9.55" textLength="19.93" lengthAdjust="spacingAndGlyphs" fill="#111" stroke="#111" stroke-width="0.15" >1240</text>
<line x1="537.40" y1="373.20" x2="537.40" y2="375.20" stroke="#808080" stroke-width="0.80" />
<line x1="571.40" y1="373.20" x2="571.40" y2="375.20" stroke="#808080" stroke-width="0.80" />
<line x1="605.40" y1="373.20" x2="605.40" y2="375.20" stroke="#808080" stroke-width="0.80" />
<line x1="639.40" y1="373.20" x2="639.40" y2="375.20" stroke="#808080" stroke-width="0.80" />
<g transform="translate(553.80,396.00) scale(0.9127,1)"><text fill="#111" stroke="#111" stroke-width="0.15"><tspan x="-0.70" y="0.00" font-size="10.40">Raman shift (cm</tspan><tspan x="80.17" y="-5.80" font-size="6.09">-1</tspan><tspan x="85.59" y="0.00" font-size="10.40">)</tspan></text></g>
<text transform="translate(508.40,381.30) rotate(-90)" x="-0.63" y="0" font-size="9.77" textLength="97.60" lengthAdjust="spacingAndGlyphs" fill="#111" stroke="#111" stroke-width="0.15">Raman Intensity (a.u.)</text>
<path d="M535.10,353.20 L535.55,354.08 L536.19,355.71 L536.93,356.22 L537.70,357.85 L538.33,357.90 L539.00,358.27 L539.70,359.27 L540.41,358.78 L541.10,358.68 L541.78,358.77 L542.46,358.55 L543.14,357.68 L543.82,357.36 L544.50,356.26 L545.19,355.79 L545.90,354.94 L546.60,353.79 L547.28,353.05 L547.90,352.63 L548.57,353.11 L549.15,353.48 L549.73,354.03 L550.40,354.92 L551.02,355.29 L551.69,356.86 L552.39,358.15 L553.10,359.34 L553.80,359.40 L554.50,359.78 L555.20,359.18 L555.90,359.44 L556.60,358.35 L557.30,357.90 L558.00,357.69 L558.71,355.06 L559.41,354.49 L560.08,352.80 L560.70,351.39 L561.39,350.61 L562.00,349.85 L562.59,349.54 L563.20,348.92 L563.82,348.96 L564.44,349.45 L565.09,350.10 L565.80,351.48 L566.42,352.32 L567.06,354.32 L567.74,354.78 L568.46,356.57 L569.20,358.07 L569.85,358.85 L570.54,361.48 L571.24,361.20 L571.96,363.12 L572.68,364.10 L573.40,365.78 L574.10,365.27 L574.80,366.99 L575.49,366.90 L576.20,367.55 L576.94,367.71 L577.70,368.42 L578.40,367.90 L579.15,368.24 L579.92,368.28 L580.69,368.64 L581.44,367.00 L582.15,368.26 L582.80,368.03 L583.59,367.66 L584.28,368.19 L584.92,368.20 L585.55,369.14 L586.20,368.67 L586.85,368.32 L587.48,367.93 L588.12,367.49 L588.81,367.09 L589.60,366.59 L590.25,367.56 L590.95,366.18 L591.70,365.64 L592.47,366.94 L593.24,367.03 L593.99,367.29 L594.70,367.13 L595.48,367.17 L596.23,367.36 L596.96,367.60 L597.68,367.11 L598.39,367.11 L599.10,367.88 L599.81,367.32 L600.53,366.72 L601.24,367.79 L601.93,367.13 L602.58,366.49 L603.20,366.09 L604.02,366.25 L604.76,365.42 L605.47,364.81 L606.20,364.05 L606.97,363.41 L607.74,362.88 L608.52,361.22 L609.30,359.89 L610.09,359.86 L610.89,358.99 L611.67,358.67 L612.40,358.22 L613.06,357.11 L613.68,356.46 L614.28,355.99 L614.90,355.40 L615.53,356.26 L616.17,357.06 L616.82,357.30 L617.50,357.72 L618.24,358.13 L619.03,358.35 L619.80,358.70 L620.50,359.16 L621.25,359.45 L621.90,359.98 L622.60,359.65 L623.22,359.94 L623.88,359.16 L624.53,358.12 L625.10,357.50 L625.70,358.99 L626.21,360.58 L626.70,360.64 L627.39,359.88 L628.20,358.90 L628.76,359.52 L629.41,359.44 L630.10,360.70 L630.80,360.79 L631.52,361.71 L632.27,361.89 L633.03,362.31 L633.80,362.38 L634.57,363.23 L635.34,364.00 L636.12,364.87 L636.90,365.09 L637.68,364.85 L638.46,365.13 L639.23,365.19 L640.00,364.75 L640.75,364.75 L641.50,364.94 L642.25,365.57 L643.00,365.69 L643.77,365.46 L644.54,366.27 L645.32,366.25 L646.10,366.24 L646.89,366.68 L647.69,366.04 L648.47,365.00 L649.20,365.03 L649.89,365.27 L650.54,365.18 L651.15,365.72 L651.70,366.23 L652.66,365.44 L653.30,366.00" fill="none" stroke="#161616" stroke-width="1.1"/>
<path d="M535.10,337.90 L535.55,338.66 L536.19,339.85 L536.93,340.69 L537.70,341.37 L538.34,341.39 L539.05,340.89 L539.77,340.53 L540.46,339.33 L541.10,338.81 L541.79,337.65 L542.40,336.44 L542.99,335.40 L543.60,334.54 L544.25,333.86 L544.90,333.27 L545.55,333.25 L546.20,332.97 L546.83,332.92 L547.45,334.09 L548.07,334.96 L548.70,336.10 L549.35,337.91 L550.00,339.36 L550.65,340.54 L551.30,341.76 L551.93,341.65 L552.55,340.97 L553.17,339.81 L553.80,337.77 L554.45,334.62 L555.12,330.25 L555.78,325.60 L556.40,321.27 L557.18,314.16 L557.92,307.38 L558.60,302.05 L559.20,298.85 L559.75,296.35 L560.30,295.59 L560.85,294.53 L561.40,295.02 L562.00,296.99 L562.66,300.26 L563.36,305.07 L564.10,310.79 L564.69,315.59 L565.32,320.82 L565.96,326.15 L566.60,331.37 L567.22,335.44 L567.84,339.23 L568.49,343.17 L569.20,346.22 L569.83,349.11 L570.50,351.78 L571.20,354.07 L571.91,356.22 L572.60,358.47 L573.28,360.17 L573.96,361.88 L574.64,363.33 L575.32,365.13 L576.00,365.89 L576.68,367.13 L577.36,367.64 L578.04,368.00 L578.72,368.52 L579.40,368.65 L580.05,368.71 L580.68,368.34 L581.32,368.42 L582.01,368.27 L582.80,367.80 L583.44,367.53 L584.13,367.16 L584.87,366.41 L585.63,366.16 L586.39,364.92 L587.16,364.67 L587.90,363.80 L588.64,364.11 L589.39,363.64 L590.14,363.66 L590.89,362.99 L591.62,362.45 L592.33,362.95 L593.00,362.33 L593.89,362.40 L594.75,362.86 L595.55,363.32 L596.31,363.31 L597.00,363.44 L597.75,362.63 L598.39,362.71 L598.98,361.60 L599.60,360.92 L600.24,360.47 L600.88,359.89 L601.52,359.27 L602.20,358.11 L602.92,356.95 L603.67,355.44 L604.43,353.76 L605.20,351.68 L605.97,349.76 L606.74,347.70 L607.52,345.62 L608.30,343.54 L609.09,341.49 L609.89,339.50 L610.67,338.06 L611.40,336.46 L612.06,335.35 L612.68,335.29 L613.28,334.27 L613.90,333.97 L614.53,333.75 L615.17,333.68 L615.82,334.47 L616.50,334.78 L617.24,335.69 L618.03,337.06 L618.80,338.22 L619.50,338.95 L620.25,339.59 L620.90,340.35 L621.60,340.01 L622.19,339.31 L622.82,339.01 L623.46,338.17 L624.10,337.61 L624.75,337.39 L625.40,337.03 L626.05,337.25 L626.70,336.94 L627.33,337.15 L627.95,337.68 L628.57,337.90 L629.20,339.10 L629.83,340.21 L630.46,342.14 L631.11,343.57 L631.80,345.58 L632.54,346.90 L633.33,348.89 L634.12,350.67 L634.90,352.30 L635.65,353.95 L636.40,355.16 L637.15,355.61 L637.90,356.65 L638.67,357.75 L639.44,358.09 L640.22,358.14 L641.00,358.90 L641.78,359.00 L642.56,359.45 L643.33,359.69 L644.10,360.05 L644.85,360.46 L645.60,359.81 L646.35,359.42 L647.10,359.80 L647.87,359.33 L648.64,359.67 L649.42,359.92 L650.20,360.18 L651.05,359.93 L651.94,360.04 L652.74,359.42 L653.30,359.30" fill="none" stroke="#e04444" stroke-width="1.1"/>
<line x1="588.00" y1="297.50" x2="606.00" y2="297.50" stroke="#e8504a" stroke-width="1.10" />
<line x1="588.00" y1="307.20" x2="606.00" y2="307.20" stroke="#161616" stroke-width="1.10" />
<text x="609.09" y="299.80" font-size="9.03" textLength="24.37" lengthAdjust="spacingAndGlyphs" fill="#111" stroke="#111" stroke-width="0.15" >T 5°C</text>
<text x="609.09" y="309.50" font-size="9.03" textLength="29.87" lengthAdjust="spacingAndGlyphs" fill="#111" stroke="#111" stroke-width="0.15" >T 25°C</text>
</svg></body></html>
